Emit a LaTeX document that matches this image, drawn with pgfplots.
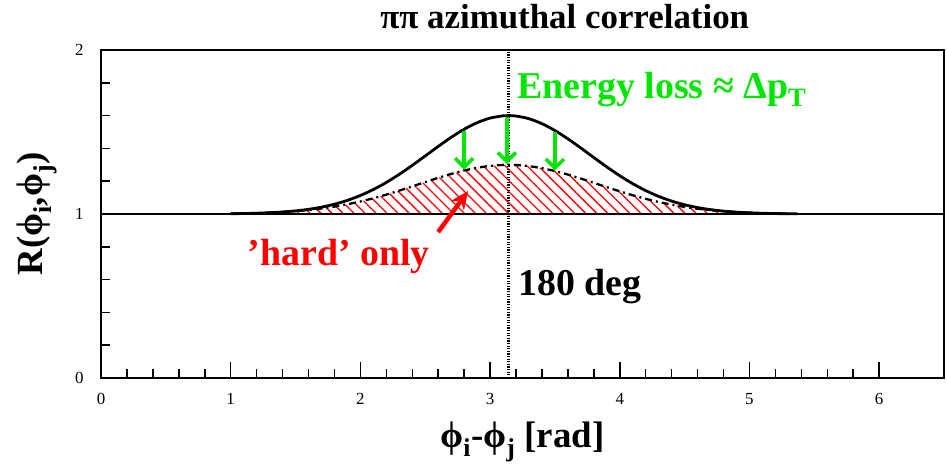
\documentclass[border=0pt]{standalone}
\usepackage{fontspec}
\setmainfont{Liberation Serif}
\usepackage{pgfplots}
\pgfplotsset{compat=1.18}
\usetikzlibrary{patterns.meta,arrows.meta}
\definecolor{lgreen}{RGB}{0,230,0}
\begin{document}
\begin{tikzpicture}
\begin{axis}[
 name=ax,
 scale only axis, width=843bp, height=328bp,
 xmin=0, xmax=6.5, ymin=0, ymax=2,
 xtick={0,1,2,3,4,5,6}, ytick={0,1,2},
 minor x tick num=4, minor y tick num=4,
 tick align=inside, xtick pos=bottom, ytick pos=left,
 major tick length=16bp, minor tick length=9bp,
 axis line style={line width=1.5bp},
 every tick/.style={black, line width=1.5bp},
 tick label style={font=\fontsize{17}{20}\selectfont},
 /pgf/number format/assume math mode=true,
 xticklabel style={yshift=-12bp},
 yticklabel style={xshift=-14bp},
 xlabel={\bfseries ϕ\textsubscript{i}-ϕ\textsubscript{j} [rad]},
 ylabel={\bfseries R(ϕ\textsubscript{i},ϕ\textsubscript{j})},
 label style={font=\fontsize{37}{42}\selectfont},
 xlabel style={at={(axis description cs:0.5,0)}, anchor=base, yshift=-69bp},
 ylabel style={at={(axis description cs:0,0.5)}, anchor=center, yshift=64bp},
 title={\bfseries ππ azimuthal correlation},
 title style={at={(axis description cs:0.55,1)}, anchor=base, yshift=16bp, inner sep=0pt, font=\fontsize{35}{40}\selectfont},
 clip=false,
]
% hatched 'hard' region
\addplot[draw=none, pattern={Lines[angle=-45,distance=7.8bp,line width=1.3bp]}, pattern color=red] coordinates {
(1.0,1.0) (1.1,1.0037) (1.2,1.0057) (1.3,1.0085) (1.4,1.0123) (1.5,1.0176) (1.6,1.0246) (1.7,1.0337) (1.8,1.0451) (1.9,1.0592)
(2.0,1.0761) (2.1,1.0958) (2.2,1.1180) (2.3,1.1423) (2.4,1.1682) (2.5,1.1945) (2.6,1.2203) (2.7,1.2443) (2.8,1.2653) (2.9,1.2821)
(3.0,1.2937) (3.1,1.2995) (3.1416,1.3) (3.2,1.2989) (3.3,1.2922) (3.4,1.2796) (3.5,1.2621) (3.6,1.2405) (3.7,1.2161) (3.8,1.1901)
(3.9,1.1637) (4.0,1.1381) (4.1,1.1141) (4.2,1.0923) (4.3,1.0731) (4.4,1.0566) (4.5,1.0430) (4.6,1.0320) (4.7,1.0233) (4.8,1.0166)
(4.9,1.0116) (5.0,1.0079) (5.1,1.0053) (5.2,1.0035) (5.3,1.0)};
% baseline at 1
\addplot[black, line width=1.3bp] coordinates {(0,1) (6.5,1)};
% 180 deg line
\addplot[black, line width=2.5bp, dash pattern=on 1.3bp off 1.3bp] coordinates {(3.1416,0) (3.1416,2)};
% hard only (dash-dot)
\addplot[black, line width=2.3bp, dash pattern=on 7bp off 4bp on 2bp off 4bp] coordinates {
(1.0,1.0024) (1.1,1.0037) (1.2,1.0057) (1.3,1.0085) (1.4,1.0123) (1.5,1.0176) (1.6,1.0246) (1.7,1.0337) (1.8,1.0451) (1.9,1.0592)
(2.0,1.0761) (2.1,1.0958) (2.2,1.1180) (2.3,1.1423) (2.4,1.1682) (2.5,1.1945) (2.6,1.2203) (2.7,1.2443) (2.8,1.2653) (2.9,1.2821)
(3.0,1.2937) (3.1,1.2995) (3.1416,1.3) (3.2,1.2989) (3.3,1.2922) (3.4,1.2796) (3.5,1.2621) (3.6,1.2405) (3.7,1.2161) (3.8,1.1901)
(3.9,1.1637) (4.0,1.1381) (4.1,1.1141) (4.2,1.0923) (4.3,1.0731) (4.4,1.0566) (4.5,1.0430) (4.6,1.0320) (4.7,1.0233) (4.8,1.0166)
(4.9,1.0116) (5.0,1.0079) (5.1,1.0053) (5.2,1.0035) (5.3,1.0022)};
% full (solid)
\addplot[black, line width=2.8bp, smooth] coordinates {
(1.0,1.0017) (1.1,1.0029) (1.2,1.0048) (1.3,1.0078) (1.4,1.0123) (1.5,1.0190) (1.6,1.0285) (1.7,1.0418) (1.8,1.0597) (1.9,1.0832)
(2.0,1.1129) (2.1,1.1493) (2.2,1.1925) (2.3,1.2420) (2.4,1.2965) (2.5,1.3539) (2.6,1.4119) (2.7,1.4673) (2.8,1.5167) (2.9,1.5567)
(3.0,1.5848) (3.1,1.5987) (3.1416,1.6) (3.2,1.5974) (3.3,1.5810) (3.4,1.5507) (3.5,1.5089) (3.6,1.4583) (3.7,1.4023) (3.8,1.3442)
(3.9,1.2870) (4.0,1.2333) (4.1,1.1848) (4.2,1.1427) (4.3,1.1074) (4.4,1.0788) (4.5,1.0563) (4.6,1.0392) (4.7,1.0267) (4.8,1.0176)
(4.9,1.0114) (5.0,1.0071) (5.1,1.0044) (5.2,1.0026) (5.3,1.0015) (5.37,1.001)};
% green arrows
\draw[lgreen, line width=3.5bp, -{Straight Barb[length=9bp,width=18bp,line width=3.5bp]}] (axis cs:2.80,1.505) -- (axis cs:2.80,1.27);
\draw[lgreen, line width=3.5bp, -{Straight Barb[length=9bp,width=18bp,line width=3.5bp]}] (axis cs:3.13,1.59) -- (axis cs:3.13,1.305);
\draw[lgreen, line width=3.5bp, -{Straight Barb[length=9bp,width=18bp,line width=3.5bp]}] (axis cs:3.50,1.50) -- (axis cs:3.50,1.265);
% red arrow
\draw[red, line width=4.5bp, -{Stealth[length=18bp,width=16bp]}] (axis cs:2.60,0.89) -- (axis cs:2.83,1.14);
% texts
\node[anchor=base west, text=lgreen, font=\fontsize{38}{42}\selectfont\bfseries, inner sep=0pt] at (axis cs:3.21,1.707) {Energy loss ≈ Δp\textsubscript{T}};
\node[anchor=base west, text=red, font=\fontsize{38}{42}\selectfont\bfseries, inner sep=0pt] at (axis cs:1.13,0.689) {'hard' only};
\node[anchor=base west, text=black, font=\fontsize{38}{42}\selectfont\bfseries, inner sep=0pt] at (axis cs:3.215,0.506) {180 deg};
\end{axis}
\pgfresetboundingbox
\path[use as bounding box] ([xshift=-101bp,yshift=-88bp]ax.south west) rectangle ([xshift=3bp,yshift=50bp]ax.north east);
\end{tikzpicture}
\end{document}
